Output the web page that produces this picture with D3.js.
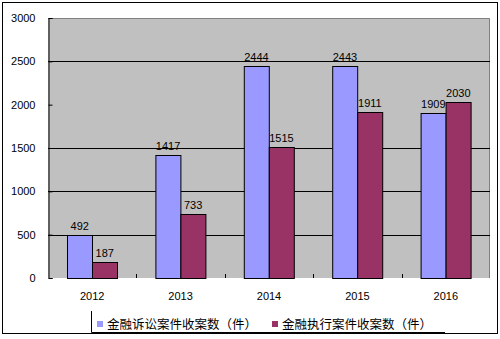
<!DOCTYPE html>
<html>
<head>
<meta charset="utf-8">
<script src="https://cdn.jsdelivr.net/npm/d3@7"></script>
<style>
body { margin: 0; background: #fff; }
svg text { font-family: "Liberation Sans", Arial, sans-serif; font-size: 11px; fill: #000; }
svg .legend text { font-family: "Noto Sans CJK SC", sans-serif; font-size: 12.5px; }
</style>
</head>
<body>
<svg id="chart"></svg>
<script>
var WIDTH = 500;
var HEIGHT = 339;

// data
var years = ["2012", "2013", "2014", "2015", "2016"];
var litigation = [492, 1417, 2444, 2443, 1909];
var enforcement = [187, 733, 1515, 1911, 2030];
var seriesNames = ["金融诉讼案件收案数（件）", "金融执行案件收案数（件）"];
var yTicks = [0, 500, 1000, 1500, 2000, 2500, 3000];
var gridValues = [500, 1000, 1500, 2500];

var colors = ["#9999ff", "#993366"];
var plot = {left: 48, top: 18, right: 490, bottom: 278};

var svg = d3.select("#chart")
    .attr("width", WIDTH)
    .attr("height", HEIGHT);

// outer frame
svg.append("rect")
    .attr("x", 2.5).attr("y", 2.5)
    .attr("width", 495).attr("height", 331)
    .attr("fill", "#fff")
    .attr("stroke", "#000");

var x = d3.scaleBand()
    .domain(years)
    .range([plot.left, plot.right]);

var xInner = d3.scaleBand()
    .domain([0, 1])
    .range([x.bandwidth() / 2 - 25, x.bandwidth() / 2 + 25]);

var y = d3.scaleLinear()
    .domain([0, 3000])
    .range([plot.bottom, plot.top]);

// plot background
svg.append("rect")
    .attr("x", plot.left).attr("y", plot.top)
    .attr("width", plot.right - plot.left)
    .attr("height", plot.bottom - plot.top)
    .attr("fill", "#c0c0c0");

svg.append("path")
    .attr("d", "M" + plot.left + "," + (plot.top + 0.5) + "H" + (plot.right - 0.5) + "V" + plot.bottom)
    .attr("fill", "none")
    .attr("stroke", "#808080");

// gridlines
svg.selectAll("line.grid")
    .data(gridValues)
    .enter()
    .append("line")
    .attr("class", "grid")
    .attr("x1", plot.left)
    .attr("x2", plot.right)
    .attr("y1", function(d) { return Math.round(y(d)) + 0.5; })
    .attr("y2", function(d) { return Math.round(y(d)) + 0.5; })
    .attr("stroke", "#000");

// category boundary ticks
var bounds = years.slice(1).map(function(d) { return x(d); });
svg.selectAll("line.ctick")
    .data(bounds)
    .enter()
    .append("line")
    .attr("class", "ctick")
    .attr("x1", function(d) { return Math.round(d) + 0.5; })
    .attr("x2", function(d) { return Math.round(d) + 0.5; })
    .attr("y1", plot.bottom - 4)
    .attr("y2", plot.bottom)
    .attr("stroke", "#000");

// bars
var groups = svg.selectAll("g.year")
    .data(years)
    .enter()
    .append("g")
    .attr("class", "year")
    .attr("transform", function(d) { return "translate(" + x(d) + ",0)"; });

groups.selectAll("rect")
    .data(function(d, i) { return [litigation[i], enforcement[i]]; })
    .enter()
    .append("rect")
    .attr("x", function(d, j) { return Math.round(xInner(j)) + 0.5; })
    .attr("y", function(d) { return Math.round(y(d)) + 0.5; })
    .attr("width", xInner.bandwidth())
    .attr("height", function(d) { return plot.bottom - Math.round(y(d)); })
    .attr("fill", function(d, j) { return colors[j]; })
    .attr("stroke", "#000");

groups.selectAll("text")
    .data(function(d, i) { return [litigation[i], enforcement[i]]; })
    .enter()
    .append("text")
    .attr("x", function(d, j) { return xInner(j) + xInner.bandwidth() / 2; })
    .attr("y", function(d) { return y(d) - 5; })
    .attr("text-anchor", "middle")
    .text(function(d) { return d; });

// y axis
var yAxis = d3.axisLeft(y)
    .tickValues(yTicks)
    .tickFormat(d3.format("d"))
    .tickSize(-4)
    .tickPadding(13);

svg.append("g")
    .attr("transform", "translate(" + (plot.left + 0.5) + ",0)")
    .call(yAxis)
    .call(function(g) {
        g.select(".domain").attr("stroke", "#000");
        g.selectAll("text").style("font-size", "11px").style("font-family", "Liberation Sans");
    });

// x axis labels
var xAxis = d3.axisBottom(x).tickSize(0).tickPadding(14);
svg.append("g")
    .attr("transform", "translate(0," + plot.bottom + ")")
    .call(xAxis)
    .call(function(g) {
        g.select(".domain").remove();
        g.selectAll("text").style("font-size", "11px").style("font-family", "Liberation Sans");
    });

// legend
var legend = svg.append("g").attr("class", "legend");
legend.append("path")
    .attr("d", "M91.5,311V332.5H445")
    .attr("fill", "none")
    .attr("stroke", "#000");

var legendX = [97, 272];
var items = legend.selectAll("g")
    .data(seriesNames)
    .enter()
    .append("g")
    .attr("transform", function(d, i) { return "translate(" + legendX[i] + ",321)"; });

items.append("rect")
    .attr("width", 6).attr("height", 6)
    .attr("fill", function(d, i) { return colors[i]; });

items.append("text")
    .attr("x", 10)
    .attr("y", 8)
    .text(function(d) { return d; });
</script>
</body>
</html>
